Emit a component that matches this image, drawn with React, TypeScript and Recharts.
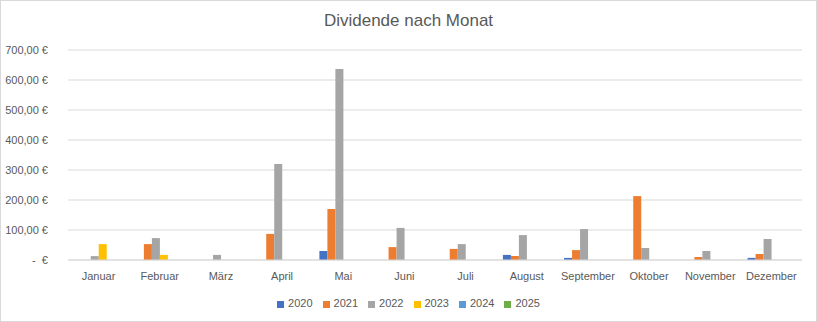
import { BarChart, Bar, XAxis, YAxis, CartesianGrid, Legend } from "recharts";

const months = [
  "Januar",
  "Februar",
  "März",
  "April",
  "Mai",
  "Juni",
  "Juli",
  "August",
  "September",
  "Oktober",
  "November",
  "Dezember",
];

const years = ["2020", "2021", "2022", "2023", "2024", "2025"];

const v2020 = [0, 0, 0, 0, 30, 0, 0, 17, 7, 0, 0, 7];
const v2021 = [0, 53, 0, 87, 170, 43, 37, 13, 33, 213, 10, 20];
const v2022 = [13, 73, 17, 320, 637, 107, 53, 83, 103, 40, 30, 70];
const v2023 = [53, 17, 0, 0, 0, 0, 0, 0, 0, 0, 0, 0];
const v2024 = [0, 0, 0, 0, 0, 0, 0, 0, 0, 0, 0, 0];
const v2025 = [0, 0, 0, 0, 0, 0, 0, 0, 0, 0, 0, 0];

const yTicks = [0, 100, 200, 300, 400, 500, 600, 700];

const COLORS = ["#4472C4", "#ED7D31", "#A5A5A5", "#FFC000", "#5B9BD5", "#70AD47"];

const series = [v2020, v2021, v2022, v2023, v2024, v2025];

const data = months.map((m, i) => {
  const row: Record<string, string | number> = { month: m };
  years.forEach((y, j) => {
    row[y] = series[j][i];
  });
  return row;
});

const FONT = "'Liberation Sans', Arial, sans-serif";

function euro(v: number): string {
  if (v === 0) return "-\u00A0\u00A0€";
  return v.toFixed(2).replace(".", ",") + " €";
}

export default function App() {
  return (
    <div
      style={{
        position: "fixed",
        top: 0,
        left: 0,
        width: 815,
        height: 320,
        border: "1px solid #d9d9d9",
        background: "#fff",
        fontFamily: FONT,
      }}
    >
      <div
        style={{
          position: "absolute",
          top: 10,
          width: "100%",
          textAlign: "center",
          fontSize: 17,
          color: "#595959",
        }}
      >
        Dividende nach Monat
      </div>
      <BarChart
        width={815}
        height={320}
        data={data}
        margin={{ top: 49, right: 14, bottom: 25, left: 0 }}
        barCategoryGap="11%"
        barGap={0}
      >
        <CartesianGrid vertical={false} stroke="#d9d9d9" />
        <XAxis
          dataKey="month"
          tickLine={false}
          axisLine={{ stroke: "#d9d9d9" }}
          tick={{ fontSize: 11, fill: "#595959", fontFamily: FONT }}
          tickMargin={6}
          interval={0}
          height={24}
        />
        <YAxis
          ticks={yTicks}
          domain={[0, 700]}
          width={67}
          tickLine={false}
          axisLine={false}
          tickFormatter={euro}
          tick={{ fontSize: 11, fill: "#595959", fontFamily: FONT }}
          tickMargin={14}
        />
        <Legend
          verticalAlign="bottom"
          iconType="square"
          iconSize={7}
          wrapperStyle={{
            fontSize: 11,
            color: "#595959",
            fontFamily: FONT,
            bottom: 12,
            left: 12,
          }}
          formatter={(value) => <span style={{ color: "#595959" }}>{value}</span>}
        />
        {years.map((y, i) => (
          <Bar key={y} dataKey={y} fill={COLORS[i]} isAnimationActive={false} />
        ))}
      </BarChart>
    </div>
  );
}
